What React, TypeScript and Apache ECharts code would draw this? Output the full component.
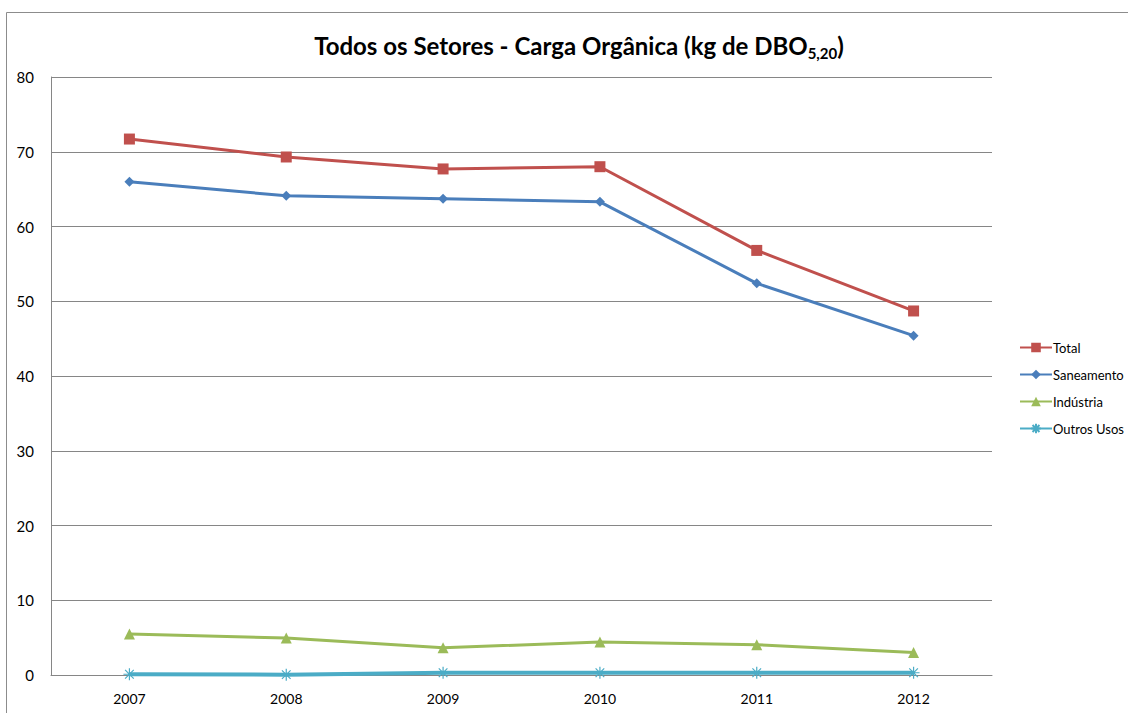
import React, { useEffect, useRef } from "react";
import * as echarts from "echarts";

const categories = ["2007", "2008", "2009", "2010", "2011", "2012"];
const totalValues = [71.7, 69.3, 67.7, 68.0, 56.8, 48.7];
const saneamentoValues = [66.0, 64.1, 63.7, 63.3, 52.4, 45.4];
const industriaValues = [5.5, 4.95, 3.65, 4.4, 4.05, 3.0];
const outrosValues = [0.1, 0.05, 0.3, 0.3, 0.3, 0.3];
const seriesNames = ["Total", "Saneamento", "Indústria", "Outros Usos"];

const FONT = "Lato, 'Open Sans', sans-serif";
const asterisk =
  "path://M0,-5L0,5M-5,0L5,0M-3.6,-3.6L3.6,3.6M-3.6,3.6L3.6,-3.6";

export default function App() {
  const ref = useRef<HTMLDivElement>(null);
  useEffect(() => {
    if (!ref.current) return;
    const chart = echarts.init(ref.current, undefined, { renderer: "svg" });
    const mk = (
      name: string,
      data: number[],
      color: string,
      symbol: string,
      size: number,
      width: number
    ) => ({
      name,
      type: "line",
      data,
      symbol,
      symbolSize: size,
      showSymbol: true,
      lineStyle: { color, width },
      itemStyle: { color, borderColor: color, borderWidth: symbol === asterisk ? 1.2 : 0 },
      z: 3,
    });
    chart.setOption({
      animation: false,
      backgroundColor: "#ffffff",
      textStyle: { fontFamily: FONT },
      title: {
        text: "Todos os Setores - Carga Orgânica (kg de DBO{sub|5,20})",
        left: 574,
        textAlign: "center",
        top: 24,
        textStyle: {
          fontFamily: FONT,
          fontSize: 24,
          fontWeight: "bold",
          color: "#000",
          lineHeight: 32,
          rich: {
            sub: {
              fontFamily: FONT,
              fontSize: 15,
              fontWeight: "bold",
              color: "#000",
              lineHeight: 32,
              padding: [16, 0, 0, 0],
            },
          },
        },
      },
      graphic: [
        {
          type: "rect",
          silent: true,
          shape: { x: 6.5, y: 12.5, width: 1200, height: 800 },
          style: { fill: "none", stroke: "#8c8c8c", lineWidth: 1 },
        },
      ],
      legend: {
        orient: "vertical",
        left: 1014,
        top: 336,
        itemWidth: 32,
        itemHeight: 12,
        itemGap: 14,
        data: seriesNames,
        textStyle: { fontFamily: FONT, fontSize: 13, color: "#000", padding: [0, 0, 0, -4] },
      },
      grid: { left: 51, right: 136, top: 77, bottom: 38, containLabel: false },
      xAxis: {
        type: "category",
        data: categories,
        boundaryGap: true,
        axisLine: { lineStyle: { color: "#868686", width: 1 } },
        axisTick: { show: false },
        axisLabel: { fontFamily: FONT, fontSize: 14, color: "#000", margin: 16 },
      },
      yAxis: {
        type: "value",
        min: 0,
        max: 80,
        interval: 10,
        axisLine: { show: true, lineStyle: { color: "#868686", width: 1 } },
        axisTick: { show: false },
        splitLine: { lineStyle: { color: "#868686", width: 1 } },
        axisLabel: { fontFamily: FONT, fontSize: 15, color: "#000", margin: 17 },
      },
      series: [
        mk("Total", totalValues, "#c0504d", "rect", 11, 3),
        mk("Saneamento", saneamentoValues, "#4a7ebb", "diamond", 10, 3),
        mk("Indústria", industriaValues, "#9bbb59", "triangle", 11, 3),
        mk("Outros Usos", outrosValues, "#4bacc6", asterisk, 12, 4),
      ],
    });
    return () => chart.dispose();
  }, []);
  return (
    <div
      ref={ref}
      style={{ position: "fixed", left: 0, top: 0, width: 1128, height: 713 }}
    />
  );
}
